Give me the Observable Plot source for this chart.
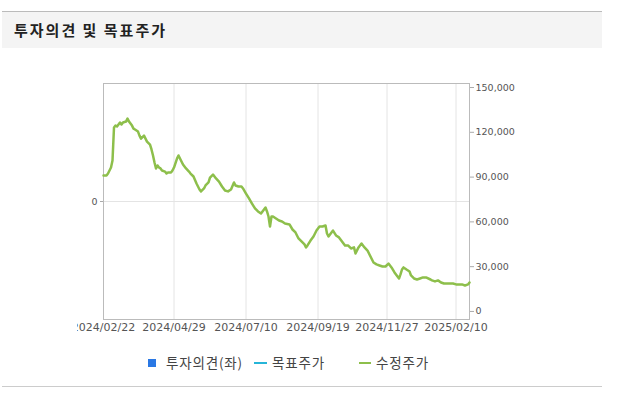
<!DOCTYPE html>
<html><head><meta charset="utf-8">
<script src="https://cdn.jsdelivr.net/npm/d3@7"></script>
<script src="https://cdn.jsdelivr.net/npm/@observablehq/plot@0.6"></script>
<style>
body{margin:0;background:#fff;font-family:"Noto Sans CJK KR",sans-serif;}
#wrap{position:relative;width:617px;height:397px;overflow:hidden;background:#fff}
#topline{position:absolute;left:2px;top:11px;width:600px;height:1px;background:#bbb}
#header{position:absolute;left:2px;top:12px;width:600px;height:36px;background:#f4f4f4}
#title{position:absolute;left:14px;top:12px;line-height:36px;font-size:15px;letter-spacing:2px;font-weight:bold;color:#222}
#chart{position:absolute;left:77px;top:60px}
#bottomline{position:absolute;left:2px;top:386px;width:600px;height:1px;background:#ccc}
.lg{position:absolute;font-size:13.5px;letter-spacing:0.8px;color:#444;line-height:14px;top:355px}
.sw{position:absolute}
</style>
</head><body>
<div id="wrap">
<div id="topline"></div>
<div id="header"></div>
<div id="title">투자의견 및 목표주가</div>
<div id="chart"></div>
<div class="sw" style="left:148px;top:359px;width:8px;height:8px;background:#2a78e4"></div>
<div class="lg" style="left:166px">투자의견(좌)</div>
<div class="sw" style="left:254px;top:362px;width:13px;height:2px;background:#26b5d8"></div>
<div class="lg" style="left:272px">목표주가</div>
<div class="sw" style="left:359px;top:362px;width:12px;height:2px;background:#8dbf4b"></div>
<div class="lg" style="left:376px">수정주가</div>
<div id="bottomline"></div>
</div>
<script>
// trading-day index (from 2024/02/22) and adjusted close price (수정주가, KRW)
const days = [0,2,3,5,6,7,8,9,11,12,13,15,16,17,19,20,21,23,24,25,27,28,29,31,32,33,34,35,36,37,38,39,41,42,43,45,46,47,49,50,51,53,54,55,57,58,60,62,64,65,67,68,70,71,73,75,77,79,81,83,85,87,88,90,92,93,95,97,99,101,103,105,107,108,109,110,111,112,113,115,117,119,121,124,126,128,130,132,134,135,136,138,140,142,144,146,148,149,150,152,153,155,157,159,161,163,165,167,168,170,172,174,176,178,180,182,184,186,188,190,192,194,196,197,198,199,200,202,204,205,207,209,211,213,215,218,219,221,223,225,227,229,231,233,235,237,239,241,243,244];
const prices = [91100,91100,92400,96400,101100,123200,124500,123900,126600,125200,126600,127200,129200,127200,124500,122500,121900,120500,117800,115800,117800,115800,113800,111800,108500,104500,99800,95800,97800,96400,95800,94400,93700,92400,93100,93100,94400,96400,102400,104500,102400,98400,97100,95800,93700,92400,90400,85700,81700,80400,82400,84400,86400,89700,91700,89100,87000,83700,81000,80400,81700,86400,84400,83700,83700,82400,79000,75700,72300,69000,67000,65600,68300,69600,67000,63600,56900,63600,63600,62300,60900,60300,58900,58300,54900,52900,48900,46900,44900,42900,44200,47500,50200,54200,56900,56900,57600,52200,50200,52900,54200,50900,49600,46900,44200,44200,42200,42900,38800,42900,45500,42900,40800,36800,32800,31500,30800,30100,30100,32100,29500,26100,23400,22100,24800,28100,29500,28100,26800,24100,22100,21400,22100,22800,22800,21400,20800,20100,20800,19400,18700,18700,18700,18700,18100,18100,18100,17400,18100,19400];
const tickDays = [0,47,95,143,189,235];
const tickLabels = ["2024/02/22","2024/04/29","2024/07/10","2024/09/19","2024/11/27","2025/02/10"];
const priceTicks = [0,30000,60000,90000,120000,150000];
const opinionTicks = [0];

const data = days.map((d,i)=>({day:d, price:prices[i]}));
const labelMap = new Map(tickDays.map((d,i)=>[d,tickLabels[i]]));
const yDomain = [-5400,152700];
const mid = (yDomain[0]+yDomain[1])/2; // left (투자의견) axis zero sits at middle

const chart = Plot.plot({
  width:540, height:290,
  marginLeft:26, marginRight:148, marginTop:23, marginBottom:31,
  x:{domain:[0,244]},
  y:{domain:yDomain},
  style:{fontFamily:"DejaVu Sans", fontSize:"9.5px", color:"#555", background:"transparent"},
  marks:[
    Plot.gridX(tickDays,{stroke:"#e4e4e4", strokeOpacity:1}),
    Plot.gridY(opinionTicks.map(()=>mid),{stroke:"#e4e4e4", strokeOpacity:1}),
    Plot.frame({stroke:"#bbb"}),
    Plot.axisX(tickDays,{tickSize:0, tickPadding:4, fontSize:11, fill:"#555", tickFormat:d=>labelMap.get(d), label:null}),
    Plot.axisY(priceTicks,{anchor:"right", tickSize:4, tickPadding:2, stroke:"#aaa", fill:"#555", tickFormat:d3.format(","), label:null}),
    Plot.axisY(opinionTicks.map(()=>mid),{anchor:"left", tickSize:3, tickPadding:3, stroke:"#aaa", fill:"#555", tickFormat:()=>String(opinionTicks[0]), label:null}),
    Plot.line(data,{x:"day", y:"price", stroke:"#8dbf4b", strokeWidth:2.5, strokeLinejoin:"round"})
  ]
});
document.getElementById("chart").appendChild(chart);
</script>
</body></html>
